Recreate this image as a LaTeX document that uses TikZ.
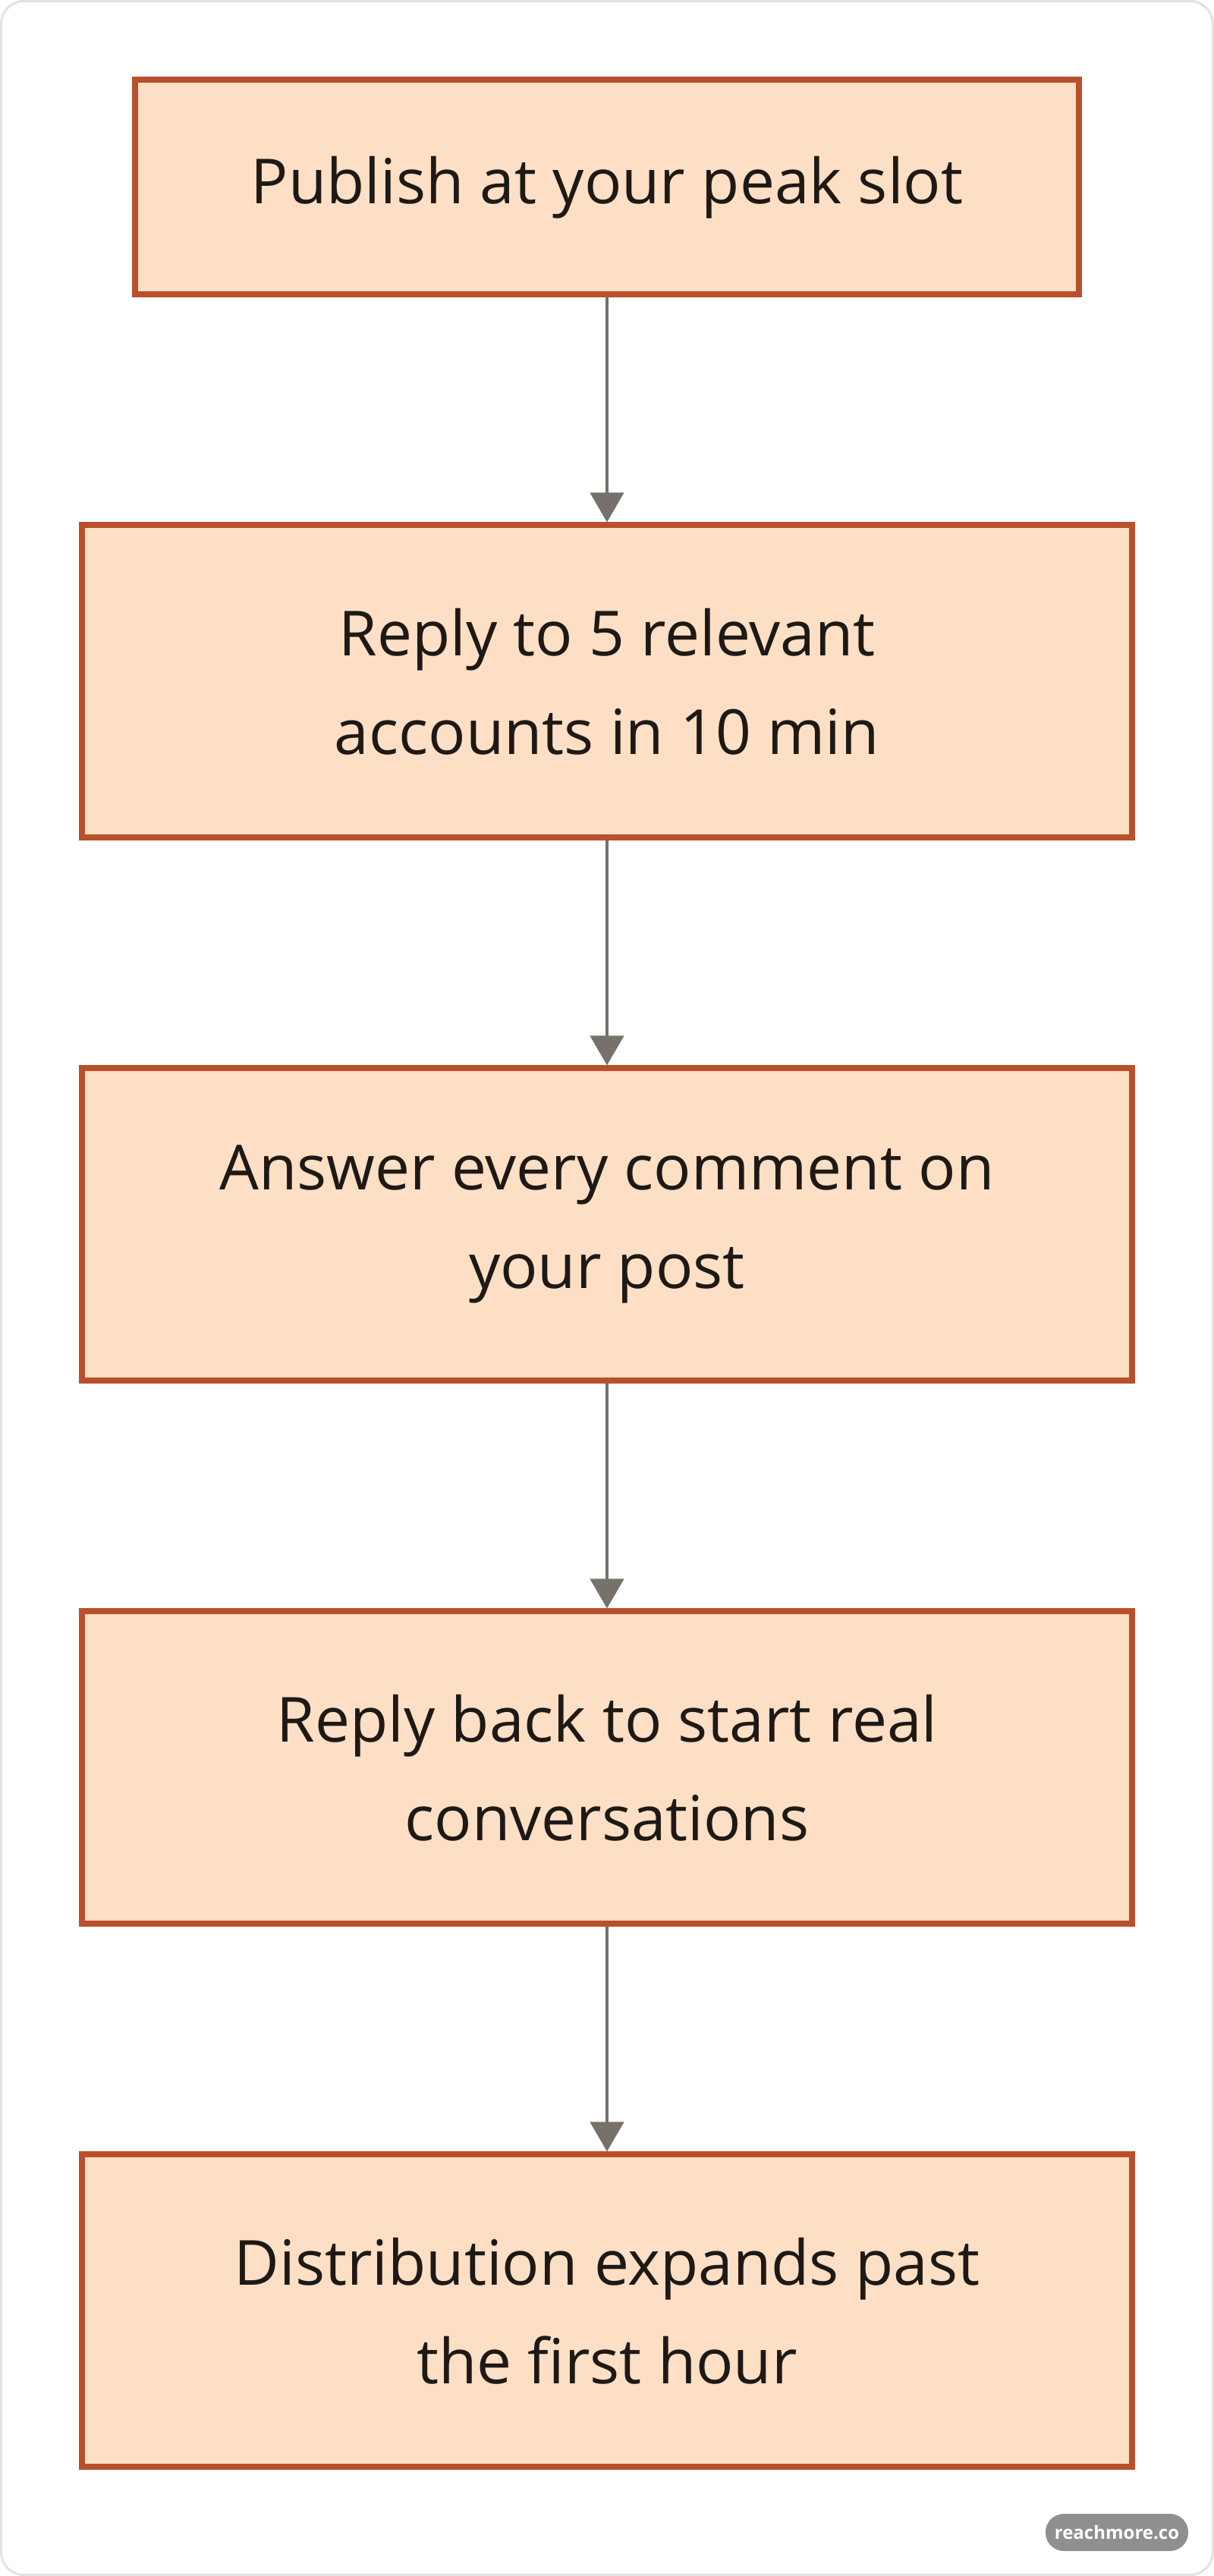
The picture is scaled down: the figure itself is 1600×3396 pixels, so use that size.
\documentclass[tikz,border=0pt]{standalone}
\usepackage{fontspec}
\setmainfont{Open Sans}
\usetikzlibrary{arrows.meta,matrix}

\definecolor{boxfill}{HTML}{FDDFC5}
\definecolor{boxline}{HTML}{B9502B}
\definecolor{arrowgray}{HTML}{77716B}
\definecolor{inkdark}{HTML}{1E1915}
\definecolor{framegray}{HTML}{E2E2E2}
\definecolor{badgegray}{HTML}{8F8F8F}

\begin{document}
\begin{tikzpicture}[x=0.5pt,y=-0.5pt
  ,>={Triangle[width=22pt,length=19.5pt]}
  ,font=\fontsize{41}{65}\selectfont]
  \tikzstyle{flow}=[draw=boxline,fill=boxfill,line width=4pt
  ,text=inkdark,align=center,minimum width=692pt,minimum height=206pt]
  \tikzstyle{arrow}=[->,arrowgray,line width=2.3pt]

  \useasboundingbox (0,0) rectangle (1600,3396);
  \draw[framegray,line width=1.5pt,rounded corners=15pt]
  (1.5,1.5) rectangle (1598.5,3394.5);

  \matrix (m) [anchor=north,inner sep=0pt
  ,row sep=148pt] at (800,101) {
    \node[flow,minimum width=622pt,minimum height=141.5pt](pub) {Publish at your peak slot}; \\
    \node[flow](rep)  {Reply to 5 relevant\\accounts in 10 min}; \\
    \node[flow](ans)  {Answer every comment on\\your post}; \\
    \node[flow](back) {Reply back to start real\\conversations}; \\
    \node[flow](dist) {Distribution expands past\\the first hour}; \\
  };

  \path[arrow]
  (pub)  edge (rep)
  (rep)  edge (ans)
  (ans)  edge (back)
  (back) edge (dist)
  ;

  \node[fill=badgegray,rounded corners=12pt,inner sep=0pt
  ,minimum width=94pt,minimum height=24.5pt,text=white
  ,font=\fontsize{12}{12}\selectfont\bfseries] (badge)
  at (1472,3338.5) {reachmore.co};

\end{tikzpicture}
\end{document}
